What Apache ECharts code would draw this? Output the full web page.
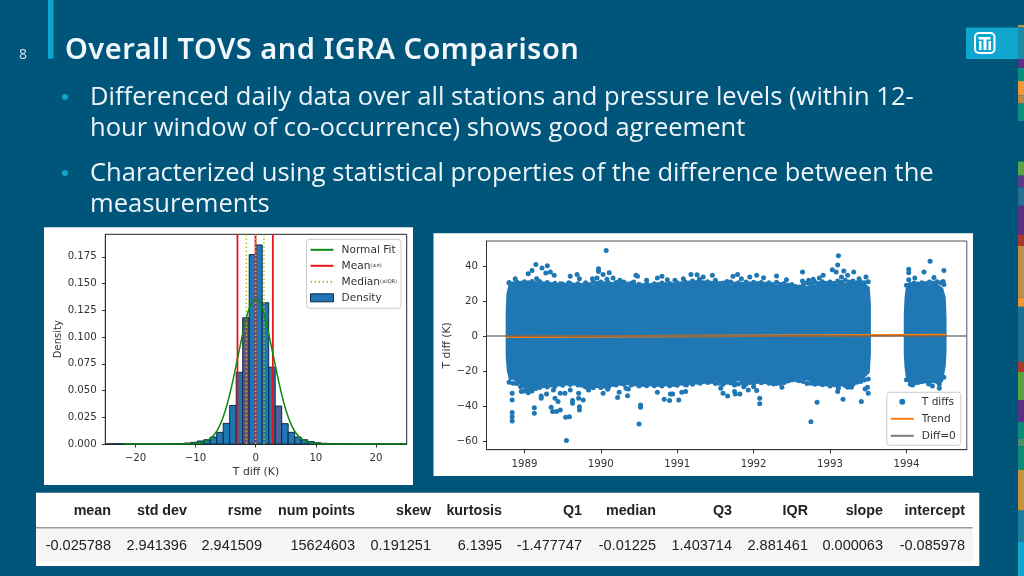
<!DOCTYPE html>
<html>
<head>
<meta charset="utf-8">
<title>Overall TOVS and IGRA Comparison</title>
<script src="https://cdn.jsdelivr.net/npm/echarts@6/dist/echarts.min.js"></script>
<style>
html,body{margin:0;padding:0;background:#00557a;}
#c{width:1024px;height:576px;}
#t{position:absolute;left:65px;top:28px;font:600 29px/40px "Noto Sans";letter-spacing:0.5px;color:#f1f7fa;white-space:nowrap;}
</style>
</head>
<body>
<div id="c"></div>
<div id="t"></div>
<script>
// ---------- slide text ----------
const slideTitle = 'Overall TOVS and IGRA Comparison';
const pageNumber = '8';
const bulletLines = [
  'Differenced daily data over all stations and pressure levels (within 12-',
  'hour window of co-occurrence) shows good agreement',
  'Characterized using statistical properties of the difference between the',
  'measurements'
];

// ---------- table ----------
const tableHeaders = ['mean','std dev','rsme','num points','skew','kurtosis','Q1','median','Q3','IQR','slope','intercept'];
const tableValues = ['-0.025788','2.941396','2.941509','15624603','0.191251','6.1395','-1.477747','-0.01225','1.403714','2.881461','0.000063','-0.085978'];

// ---------- histogram ----------
const binEdges = [-24.84,-23.76,-22.68,-21.6,-20.52,-19.44,-18.36,-17.28,-16.2,-15.12,-14.04,-12.96,-11.88,-10.8,-9.72,-8.64,-7.56,-6.48,-5.4,-4.32,-3.24,-2.16,-1.08,0,1.08,2.16,3.24,4.32,5.4,6.48,7.56,8.64,9.72,10.8,11.88,12.96,14.04,15.12,16.2,17.28,18.36,19.44,20.52,21.6,22.68,23.76,24.84];
const binDensity = [0.00002,0.00002,0.00003,0.00003,0.00004,0.00005,0.00006,0.00008,0.0001,0.00015,0.0002,0.0005,0.0009,0.0015,0.0028,0.004,0.0065,0.0109,0.0193,0.036,0.067,0.118,0.177,0.186,0.132,0.0718,0.0355,0.019,0.0109,0.0065,0.004,0.0022,0.0012,0.0007,0.0005,0.0003,0.0002,0.00015,0.0001,0.00008,0.00006,0.00005,0.00004,0.00003,0.00002,0.00002];
const fitX = [-22,-15,-12,-11,-10,-9,-8,-7,-6,-5,-4,-3,-2,-1.5,-1,-0.5,0,0.5,1,1.5,2,3,4,5,6,7,8,9,10,11,12,15,25];
const fitY = [0,0,0.0001,0.0002,0.0004,0.0012,0.0033,0.0079,0.017,0.032,0.054,0.0805,0.1075,0.119,0.128,0.134,0.1356,0.134,0.128,0.119,0.1075,0.0805,0.054,0.032,0.017,0.0079,0.0033,0.0012,0.0004,0.0002,0.0001,0,0];
const meanLines = [-3.03,-0.03,2.85];
const medianLines = [-1.55,-0.01,1.38];
const densityTicks = [0,0.025,0.05,0.075,0.1,0.125,0.15,0.175];
const diffTicks = [-20,-10,0,10,20];

// ---------- time series ----------
const yearTicks = [1989,1990,1991,1992,1993,1994];
const tempTicks = [-60,-40,-20,0,20,40];
const mainUpper = [[1988.755,14],[1988.765,24],[1988.79,29],[1988.85,30],[1989,30.3],[1989.1,30.5],[1989.25,30],[1989.4,29],[1989.5,28.8],[1989.75,29],[1990,30],[1990.25,29.8],[1990.5,29],[1990.75,29],[1991,29.5],[1991.25,30.5],[1991.5,30],[1991.75,29.5],[1992,30],[1992.25,29.5],[1992.5,29],[1992.6,27.5],[1992.75,29.5],[1993,30],[1993.25,30.5],[1993.45,30],[1993.52,28],[1993.535,18]];
const mainLower = [[1988.755,-12],[1988.77,-20],[1988.8,-25.5],[1988.85,-25],[1988.95,-28],[1989.03,-32],[1989.1,-31],[1989.2,-28.5],[1989.4,-27.5],[1989.6,-26.5],[1989.85,-28.5],[1990.08,-28.5],[1990.3,-26.5],[1990.5,-27.5],[1990.74,-27.5],[1990.95,-27.5],[1991.17,-26.5],[1991.39,-25.5],[1991.6,-26.5],[1991.75,-25.5],[1991.9,-26.5],[1992.13,-25.5],[1992.35,-26.5],[1992.56,-24],[1992.78,-26.5],[1993,-27.5],[1993.22,-27.5],[1993.44,-24.5],[1993.52,-21],[1993.535,-10]];
const lateUpper = [[1993.965,12],[1993.975,22],[1993.99,27.5],[1994.02,28.5],[1994.1,29.5],[1994.25,29.5],[1994.4,30],[1994.48,27.5],[1994.515,22],[1994.525,10]];
const lateLower = [[1993.965,-10],[1993.975,-18],[1993.99,-23],[1994.03,-27],[1994.1,-26],[1994.25,-25],[1994.4,-25],[1994.49,-23],[1994.515,-17],[1994.525,-8]];
const outliersHigh = [[1990.07,48.9],[1989.15,40.9],[1989.30,40.2],[1989.23,38.9],[1989.10,37.5],[1989.34,36.6],[1989.05,35.6],[1989.28,36.0],[1989.97,38.5],[1989.97,36.9],[1990.11,36.2],[1990.03,35.2],[1989.69,35.2],[1989.60,34.1],[1989.39,34.7],[1989.72,32.7],[1989.95,33.1],[1989.89,32.7],[1990.46,34.7],[1990.48,34.1],[1990.80,34.1],[1990.74,33.1],[1990.60,31.8],[1990.87,32.2],[1991.18,35.2],[1991.26,35.0],[1991.34,33.7],[1991.46,34.7],[1991.50,31.8],[1991.56,29.9],[1991.65,31.2],[1988.88,32.7],[1988.80,30.5],[1989.16,32.7],[1990.16,33.1],[1990.25,31.8],[1990.08,32.4],[1991.08,32.7],[1990.97,31.8],[1991.29,32.4],[1990.43,30.9],[1990.68,28.9],[1989.47,29.9],[1989.58,30.5],[1989.71,28.9],
  [1993.11,45.9],[1993.10,40.6],[1994.31,42.7],[1994.03,38.1],[1994.03,36.2],[1994.49,37.5],[1994.23,36.6],[1992.64,36.6],[1993.03,37.9],[1993.08,36.6],[1993.18,37.1],[1993.31,36.6],[1991.73,34.1],[1991.79,35.2],[1991.84,32.7],[1991.95,33.7],[1992.04,34.7],[1992.13,33.3],[1992.30,34.3],[1992.43,32.2],[1992.91,34.7],[1992.86,33.1],[1992.78,32.4],[1992.72,31.8],[1992.64,31.4],[1993.38,32.7],[1993.47,33.7],[1994.03,32.2],[1994.11,33.1],[1994.36,33.5],[1994.48,31.2],[1993.23,34.7],[1993.15,33.7]];
const outliersLow = [[1988.84,-43.8],[1988.84,-46.1],[1988.84,-48.6],[1988.84,-36.6],[1988.84,-32.8],[1988.96,-31.8],[1989.13,-41.0],[1989.13,-44.2],[1989.55,-59.8],[1990.50,-50.3],[1990.52,-39.4],[1990.52,-40.8],[1989.54,-46.5],[1989.59,-46.1],[1989.72,-40.4],[1989.72,-42.3],[1989.63,-36.9],[1989.63,-38.5],[1989.35,-40.8],[1989.37,-43.2],[1989.42,-43.2],[1989.47,-42.3],[1989.40,-35.6],[1989.44,-37.5],[1989.47,-32.8],[1989.53,-32.8],[1989.60,-30.9],[1989.71,-32.8],[1989.71,-35.6],[1989.77,-36.6],[1989.22,-34.3],[1989.22,-35.6],[1989.29,-33.2],[1989.38,-30.9],[1989.84,-30.9],[1990.03,-32.8],[1990.09,-30.5],[1990.22,-35.2],[1990.24,-32.2],[1990.33,-29.9],[1990.36,-30.3],[1990.35,-34.1],[1990.74,-32.2],[1990.83,-36.2],[1990.90,-36.9],[1991.02,-36.6],[1990.91,-33.2],[1990.94,-33.2],[1991.06,-32.2],[1991.11,-31.8],[1991.12,-28.0],[1991.57,-29.9],[1991.60,-32.8],[1991.66,-34.3],[1989.90,-28.0],[1990.60,-27.1],[1991.39,-25.1],
  [1991.75,-31.8],[1991.76,-33.2],[1991.82,-33.2],[1991.75,-28.0],[1991.87,-29.0],[1991.93,-30.9],[1992.00,-29.0],[1992.04,-31.2],[1992.08,-35.6],[1992.08,-38.7],[1992.26,-27.4],[1992.37,-29.3],[1992.57,-25.1],[1992.83,-37.9],[1992.75,-49.0],[1993.17,-36.2],[1993.41,-37.5],[1993.50,-32.8],[1993.46,-30.3],[1993.49,-29.3],[1993.10,-31.8],[1993.11,-29.9],[1993.23,-29.3],[1993.28,-29.3],[1994.08,-28.0],[1994.20,-25.1],[1994.29,-27.4],[1994.34,-28.6],[1994.43,-27.4],[1994.43,-29.9],[1994.43,-25.7]];
const edgeHigh = [[1988.80,30.4],[1988.85,29.8],[1988.90,30.8],[1988.95,30.2],[1989.00,31.0],[1989.05,30.4],[1989.10,31.1],[1989.15,30.0],[1989.20,31.2],[1989.25,29.8],[1989.30,30.6],[1989.35,29.4],[1989.40,30.2],[1989.45,28.9],[1989.50,29.7],[1989.55,29.1],[1989.60,30.0],[1989.65,29.2],[1989.70,29.9],[1989.75,29.0],[1989.80,30.5],[1989.85,29.5],[1989.90,31.0],[1989.95,30.2],[1990.00,30.9],[1990.05,29.8],[1990.10,30.5],[1990.15,29.6],[1990.20,30.6],[1990.25,29.9],[1990.30,30.9],[1990.35,29.7],[1990.40,30.1],[1990.45,28.9],[1990.50,29.6],[1990.55,28.9],[1990.60,29.9],[1990.65,28.8],[1990.70,29.8],[1990.75,29.4],[1990.80,30.3],[1990.85,29.5],[1990.90,30.0],[1990.95,29.3],[1991.00,30.5],[1991.05,29.9],[1991.10,31.0],[1991.15,30.3],[1991.20,31.4],[1991.25,30.6],[1991.30,31.5],[1991.35,30.4],[1991.40,31.0],[1991.45,30.1],[1991.50,30.7],[1991.55,29.8],[1991.60,30.3],[1991.65,29.6],[1991.70,30.8],[1991.75,29.7],[1991.80,30.5],[1991.85,29.6],[1991.90,30.9],[1991.95,29.9],[1992.00,30.7],[1992.05,30.0],[1992.10,30.6],[1992.15,29.6],[1992.20,30.4],[1992.25,29.4],[1992.30,30.7],[1992.35,29.5],[1992.40,30.0],[1992.45,29.0],[1992.50,29.4],[1992.55,28.3],[1992.60,28.0],[1992.65,29.2],[1992.70,30.4],[1992.75,29.9],[1992.80,30.8],[1992.85,30.0],[1992.90,31.0],[1992.95,30.2],[1993.00,30.9],[1993.05,30.2],[1993.10,31.4],[1993.15,30.7],[1993.20,31.8],[1993.25,30.8],[1993.30,31.4],[1993.35,30.4],[1993.40,31.0],[1993.45,30.5],[1993.50,31.0],
  [1994.00,29.0],[1994.05,29.6],[1994.10,30.3],[1994.15,29.7],[1994.20,30.4],[1994.25,30.0],[1994.30,30.9],[1994.35,30.3],[1994.40,31.0],[1994.45,30.4],[1994.49,29.5]];
const edgeLow = [[1988.80,-26.5],[1988.85,-27.0],[1988.90,-27.2],[1988.95,-29.0],[1989.00,-31.5],[1989.05,-32.5],[1989.10,-31.5],[1989.15,-30.0],[1989.20,-29.5],[1989.25,-28.5],[1989.30,-29.2],[1989.35,-28.0],[1989.40,-28.8],[1989.45,-27.5],[1989.50,-28.2],[1989.55,-27.0],[1989.60,-27.8],[1989.65,-27.0],[1989.70,-28.0],[1989.75,-28.2],[1989.80,-29.2],[1989.85,-28.8],[1989.90,-29.6],[1989.95,-28.5],[1990.00,-29.4],[1990.05,-28.8],[1990.10,-29.3],[1990.15,-27.8],[1990.20,-28.0],[1990.25,-27.0],[1990.30,-27.6],[1990.35,-26.8],[1990.40,-28.0],[1990.45,-27.5],[1990.50,-28.6],[1990.55,-27.8],[1990.60,-28.5],[1990.65,-27.4],[1990.70,-28.4],[1990.75,-27.8],[1990.80,-28.6],[1990.85,-27.5],[1990.90,-28.4],[1990.95,-27.7],[1991.00,-28.2],[1991.05,-27.0],[1991.10,-27.8],[1991.15,-26.8],[1991.20,-27.6],[1991.25,-26.5],[1991.30,-27.0],[1991.35,-26.0],[1991.40,-26.6],[1991.45,-26.0],[1991.50,-27.2],[1991.55,-27.0],[1991.60,-27.6],[1991.65,-26.4],[1991.70,-26.9],[1991.75,-26.4],[1991.80,-27.4],[1991.85,-26.8],[1991.90,-27.6],[1991.95,-26.6],[1992.00,-27.0],[1992.05,-26.0],[1992.10,-26.7],[1992.15,-26.2],[1992.20,-27.0],[1992.25,-26.4],[1992.30,-27.2],[1992.35,-27.0],[1992.40,-26.6],[1992.45,-25.8],[1992.50,-25.2],[1992.55,-24.8],[1992.60,-25.6],[1992.65,-26.0],[1992.70,-27.2],[1992.75,-27.0],[1992.80,-27.6],[1992.85,-27.2],[1992.90,-27.9],[1992.95,-27.4],[1993.00,-28.6],[1993.05,-27.9],[1993.10,-28.6],[1993.15,-27.6],[1993.20,-28.3],[1993.25,-27.4],[1993.30,-27.6],[1993.35,-26.4],[1993.40,-26.0],[1993.45,-25.2],[1993.50,-24.6],
  [1994.00,-25.0],[1994.05,-27.6],[1994.10,-27.0],[1994.15,-26.6],[1994.20,-26.2],[1994.25,-25.8],[1994.30,-26.2],[1994.35,-25.6],[1994.40,-26.0],[1994.45,-25.2],[1994.49,-23.6]];
const trendYears = [1988.76,1994.525];
const trendValues = [-0.4,0.5];
const zeroYears = [1988.504,1994.79];
const zeroValues = [0,0];

// ---------- layout & style ----------
const BLUE='#1f77b4', INK='#333', FONT='"DejaVu Sans"', BG='#00557a', CYAN='#10a5cd';
const tintedBins={21:'#6f4d84',26:'#4f5f98'};
const histYMax=0.196;
const tempMin=-65, tempMax=54.3, yearMin=1988.504, yearMax=1994.79;
const columnRight=[111,187,262,355,431,502,582,656,732,808,883,965];
const strip=[[25,27.5,'#c0924f'],[27.5,59,'#1b8aa6'],[59,68,'#5a2f88'],[68,81,'#0c8f7a'],[81,95.5,'#ef983a'],[95.5,103.6,'#b98a4e'],[103.6,121,'#0b8f7f'],[161.6,175.6,'#5aa346'],[175.6,187.4,'#5b3a8c'],[187.4,205.7,'#2a6f90'],[205.7,235,'#5a2f85'],[235,246,'#a83a2c'],[246,297.6,'#c08e4a'],[297.6,306.8,'#ef963a'],[306.8,362,'#1f6f92'],[362,372,'#a93a2a'],[372,400,'#5aa03e'],[400,422,'#5b2f86'],[422,439,'#0c8c78'],[439,446.4,'#4f8f6a'],[446.4,470,'#0d8c78'],[470,510.6,'#c4913f'],[510.6,542,'#1f7da0'],[542,576,'#0fa6d0']];

document.getElementById('t').textContent=slideTitle;

function rect(x,y,w,h,fill,z){return {type:'rect',z:z===undefined?-10:z,silent:true,shape:{x,y,width:w,height:h},style:{fill}};}
function text(s,x,y,font,fill,align){return {type:'text',z:-5,silent:true,x,y,style:{text:s,font,fill,textAlign:align||'left',textVerticalAlign:'middle'}};}
function verticals(xs,top){const d=[];xs.forEach((x,i)=>{if(i)d.push([null,null]);d.push([x,0],[x,top]);});return d;}

const graphic=[
  rect(44,227.3,369,257.7,'#ffffff'),
  rect(433.5,233.3,539.5,242.7,'#ffffff'),
  rect(36,492.7,943.3,73.3,'#ffffff'),
  rect(36,529,936.7,32.7,'#f5f5f5'),
  rect(36,527,936.7,1.5,'#9a9a9a'),
  rect(48,0,5.5,58.7,CYAN),
  rect(966,27.5,52,31.5,CYAN),
  {type:'rect',z:-4,silent:true,shape:{x:975,y:33,width:19.5,height:20,r:4},style:{fill:'none',stroke:'#fff',lineWidth:2}},
  rect(983.5,37,3,13,'#fff',-4),
  rect(978.5,37,12,2.5,'#fff',-4),
  rect(979,41,2.5,9,'#fff',-4),
  rect(988.5,41,2.5,9,'#fff',-4),
  text(pageNumber,23,55,'14px "Open Sans"','#d5e3ea','center'),
  {type:'circle',z:-5,silent:true,shape:{cx:65,cy:97,r:3},style:{fill:CYAN}},
  {type:'circle',z:-5,silent:true,shape:{cx:65,cy:173,r:3},style:{fill:CYAN}},
  text(bulletLines[0],90,98,'25.55px "Open Sans"','#eef5f8'),
  text(bulletLines[1],90,129,'25.55px "Open Sans"','#eef5f8'),
  text(bulletLines[2],90,174,'25.55px "Open Sans"','#eef5f8'),
  text(bulletLines[3],90,205,'25.55px "Open Sans"','#eef5f8')
];
strip.forEach(s=>graphic.push(rect(1018,s[0],6,s[1]-s[0],s[2])));
tableHeaders.forEach((h,i)=>graphic.push(text(h,columnRight[i],511,'bold 14.3px "Liberation Sans"','#222','right')));
tableValues.forEach((v,i)=>graphic.push(text(v,columnRight[i],546,'14.5px "Liberation Sans"','#222','right')));

function mplAxis(extra,nameSize){
  return Object.assign({
    type:'value',splitLine:{show:false},
    axisLine:{show:true,onZero:false,lineStyle:{color:INK,width:1}},
    nameTextStyle:{fontFamily:FONT,fontSize:nameSize,color:INK},
    nameLocation:'middle'
  },extra);
}
function ticks(values,fmt,margin){
  return {
    axisTick:{show:true,length:3.5,lineStyle:{color:INK},customValues:values},
    axisLabel:{color:INK,fontFamily:FONT,fontSize:10.2,margin,customValues:values,formatter:fmt}
  };
}
const minus=v=>String(v).replace('-','\u2212');
const noMarker={color:'transparent',borderColor:'transparent',borderWidth:0};

const histRows=binDensity.map((d,i)=>[binEdges[i],binEdges[i+1],d,i]);
const blobs=[[mainUpper,mainLower],[lateUpper,lateLower]];

const option={
  animation:false,
  backgroundColor:BG,
  graphic:{elements:graphic},
  grid:[
    {left:105.3,top:234.3,width:301.4,height:209.7,show:true,backgroundColor:'#fff',borderColor:'#222',borderWidth:1,containLabel:false},
    {left:486.5,top:241,width:480.3,height:208.7,show:true,backgroundColor:'#fff',borderColor:'#555',borderWidth:1,containLabel:false}
  ],
  xAxis:[
    mplAxis(Object.assign({gridIndex:0,min:-25,max:25.1,name:'T diff (K)',nameGap:23},ticks(diffTicks,minus,9.5)),10.8),
    mplAxis(Object.assign({gridIndex:1,min:yearMin,max:yearMax},ticks(yearTicks,v=>String(Math.round(v)),9.5)),10)
  ],
  yAxis:[
    mplAxis(Object.assign({gridIndex:0,min:0,max:histYMax,name:'Density',nameGap:42},ticks(densityTicks,v=>v.toFixed(3),8.5)),10),
    mplAxis(Object.assign({gridIndex:1,min:tempMin,max:tempMax,name:'T diff (K)',nameGap:33},ticks(tempTicks,minus,8.5)),10.8)
  ],
  legend:[
    {
      left:306.5,top:239.3,orient:'vertical',align:'left',itemWidth:23,itemHeight:8,itemGap:5,
      padding:[5,4,5,3],backgroundColor:'rgba(255,255,255,0.85)',borderColor:'#ccc',borderWidth:1,borderRadius:3,
      data:[
        {name:'Normal Fit',itemStyle:noMarker},
        {name:'Mean',itemStyle:noMarker},
        {name:'Median',itemStyle:noMarker},
        {name:'Density',icon:'rect',itemStyle:{color:BLUE,borderColor:'#0d2a45',borderWidth:1}}
      ],
      formatter:n=>n==='Mean'?'{m|Mean}{s|(\u00b1\u03c3)}':n==='Median'?'{m|Median}{s|(\u00b1IQR)}':'{m|'+n+'}',
      textStyle:{rich:{m:{fontFamily:FONT,fontSize:10.6,color:INK,padding:[0,0,0,3]},s:{fontFamily:FONT,fontSize:5,color:INK}}}
    },
    {
      left:886.8,top:392.3,orient:'vertical',align:'left',itemWidth:23,itemHeight:6,itemGap:6,
      padding:[4,5,4,3],backgroundColor:'rgba(255,255,255,0.85)',borderColor:'#ccc',borderWidth:1,borderRadius:3,
      data:[{name:'T diffs',icon:'circle',itemStyle:{color:BLUE}},{name:'Trend',itemStyle:noMarker},{name:'Diff=0',itemStyle:noMarker}],
      textStyle:{fontFamily:FONT,fontSize:10.6,color:INK,padding:[0,0,0,3]}
    }
  ],
  series:[
    {
      name:'Density',type:'custom',xAxisIndex:0,yAxisIndex:0,silent:true,
      data:histRows,encode:{x:[0,1],y:2},
      itemStyle:{color:BLUE},
      renderItem(params,api){
        const a=api.coord([api.value(0),0]), b=api.coord([api.value(1),api.value(2)]);
        return {type:'rect',shape:{x:a[0],y:b[1],width:b[0]-a[0],height:a[1]-b[1]},
          style:{fill:tintedBins[api.value(3)]||BLUE,stroke:'#0d2a45',lineWidth:1}};
      }
    },
    {name:'Mean',type:'line',xAxisIndex:0,yAxisIndex:0,symbol:'none',silent:true,
      data:verticals(meanLines,histYMax),lineStyle:{color:'#e8141c',width:1.8},itemStyle:{color:'#e8141c'}},
    {name:'Median',type:'line',xAxisIndex:0,yAxisIndex:0,symbol:'none',silent:true,
      data:verticals(medianLines,histYMax),lineStyle:{color:'#a9c61e',width:1.5,type:[1.5,2.5]},itemStyle:{color:'#a9c61e'}},
    {name:'Normal Fit',type:'line',xAxisIndex:0,yAxisIndex:0,symbol:'none',silent:true,smooth:0.3,
      data:fitX.map((x,i)=>[x,fitY[i]]),lineStyle:{color:'#118a11',width:1.5},itemStyle:{color:'#118a11'}},
    {
      name:'T diffs body',type:'custom',xAxisIndex:1,yAxisIndex:1,silent:true,clip:true,
      data:blobs.map((b,i)=>[i]),encode:{x:0},
      renderItem(params,api){
        const b=blobs[api.value(0)];
        const pts=b[0].concat(b[1].slice().reverse()).map(p=>api.coord(p));
        return {type:'polygon',shape:{points:pts},style:{fill:BLUE}};
      }
    },
    {name:'T diffs',type:'scatter',xAxisIndex:1,yAxisIndex:1,silent:true,symbolSize:5,
      data:edgeHigh.concat(edgeLow,outliersHigh,outliersLow),itemStyle:{color:BLUE,opacity:1}},
    {name:'Trend',type:'line',xAxisIndex:1,yAxisIndex:1,symbol:'none',silent:true,
      data:trendYears.map((x,i)=>[x,trendValues[i]]),lineStyle:{color:'#ff7f0e',width:2.5},itemStyle:{color:'#ff7f0e'}},
    {name:'Diff=0',type:'line',xAxisIndex:1,yAxisIndex:1,symbol:'none',silent:true,
      data:zeroYears.map((x,i)=>[x,zeroValues[i]]),lineStyle:{color:'rgba(90,90,90,0.8)',width:1.5},itemStyle:{color:'#777'}}
  ]
};
const chart=echarts.init(document.getElementById('c'));
chart.setOption(option);
</script>
</body>
</html>
